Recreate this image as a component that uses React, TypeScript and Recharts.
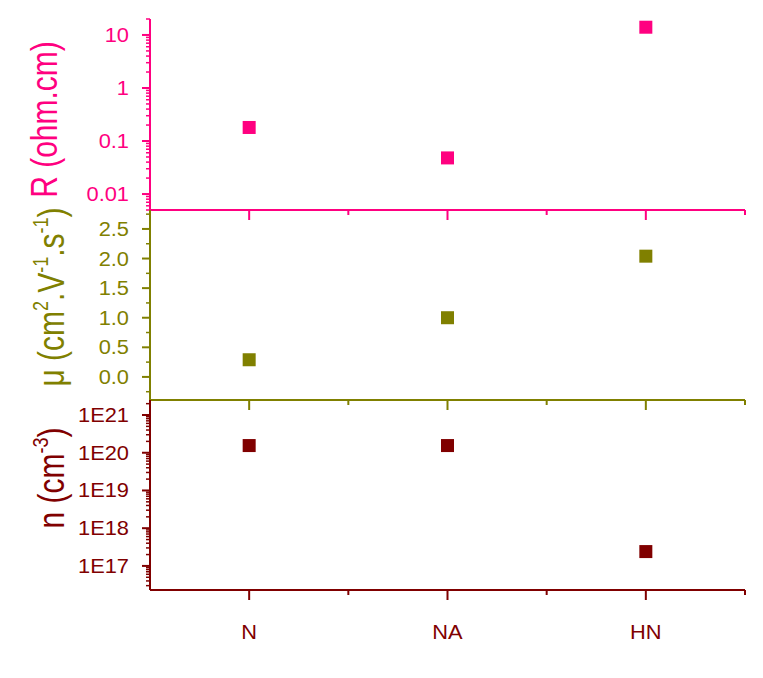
import React from 'react';
import { ScatterChart, Scatter, XAxis, YAxis, Label } from 'recharts';

// categories along the shared x axis
const categories = ['N', 'NA', 'HN'];

// measured values per sample
const resistivity = [0.18, 0.048, 14];
const mobility = [0.29, 1.0, 2.04];
const carrierDensity = [1.55e20, 1.55e20, 2.4e17];

// labelled ticks
const rTicks = [0.01, 0.1, 1, 10];
const muTicks = [0, 0.5, 1, 1.5, 2, 2.5];
const nTicks = [1e17, 1e18, 1e19, 1e20, 1e21];
const xMajor = [1, 2, 3];
const xMinor = [1.5, 2.5, 3.5];

const rDomain = [0.005, 20];
const muDomain = [-0.39, 2.82];
const nDomain = [2.3e16, 2.5e21];
const muMinor = [-0.25, 0.25, 0.75, 1.25, 1.75, 2.25, 2.75];

const PINK = '#FF0080';
const OLIVE = '#808000';
const MAROON = '#800000';

const W = 747;
const H = 662;

const logMinor = (lo: number, hi: number) => {
  const out: number[] = [];
  for (let d = Math.floor(Math.log10(lo)); d <= Math.ceil(Math.log10(hi)); d++) {
    for (let m = 2; m <= 9; m++) {
      const v = m * Math.pow(10, d);
      if (v >= lo && v <= hi) out.push(v);
    }
  }
  return out;
};

const isIn = (list: number[], v: number) =>
  list.some((m) => Math.abs(m - v) <= 1e-9 * Math.max(1, Math.abs(m)));

const toPoints = (vals: number[]) => vals.map((v, i) => ({ x: i + 1, y: v }));

const makeYTick = (color: string, majors: number[], fmt: (v: number) => string) => (props: any) => {
  const { x, y, payload } = props;
  const major = isIn(majors, payload.value);
  return (
    <g>
      <line x1={x} x2={x - (major ? 8 : 4)} y1={y} y2={y} stroke={color} strokeWidth={major ? 2 : 1.5} />
      {major && (
        <text
          transform={`translate(${x - 21},${y}) scale(1.12,1)`}
          dy="0.36em"
          textAnchor="end"
          fill={color}
          fontSize={19.5}
        >
          {fmt(payload.value)}
        </text>
      )}
    </g>
  );
};

const makeXTick = (color: string, showLabels: boolean) => (props: any) => {
  const { x, y, payload } = props;
  const major = isIn(xMajor, payload.value);
  return (
    <g>
      <line x1={x} x2={x} y1={y} y2={y + (major ? 10 : 5)} stroke={color} strokeWidth={2} />
      {major && showLabels && (
        <text transform={`translate(${x},${y + 49}) scale(1.12,1)`} textAnchor="middle" fill={color} fontSize={19.5}>
          {categories[payload.value - 1]}
        </text>
      )}
    </g>
  );
};

type Part = { t: string; sup?: boolean };

const makeTitle = (parts: Part[], color: string, baseX: number, shiftY: number) => (props: any) => {
  const vb = props.viewBox || { x: 0, y: 0, width: 142, height: 190 };
  const cx = vb.x + baseX;
  const cy = vb.y + vb.height / 2 + shiftY;
  let raised = false;
  return (
    <text
      transform={`translate(${cx},${cy}) scale(1.25,1) rotate(-90)`}
      textAnchor="middle"
      fill={color}
      fontSize={30}
    >
      {parts.map((p, i) => {
        let dy = 0;
        if (p.sup && !raised) { dy = -13; raised = true; }
        else if (!p.sup && raised) { dy = 13; raised = false; }
        return (
          <tspan key={i} dy={dy} fontSize={p.sup ? 18 : 30}>
            {p.t}
          </tspan>
        );
      })}
    </text>
  );
};

const Square = (color: string) => (props: any) =>
  <rect x={props.cx - 6.5} y={props.cy - 6.5} width={13} height={13} fill={color} />;

interface PanelProps {
  values: number[];
  color: string;
  top: number;
  bottom: number;
  xHeight: number;
  log: boolean;
  domain: number[];
  ticks: number[];
  majors: number[];
  fmt: (v: number) => string;
  title: Part[];
  titleX: number;
  titleShift: number;
  showX: boolean;
}

const Panel: React.FC<PanelProps> = (p) => (
  <div style={{ position: 'absolute', left: 0, top: 0 }}>
    <ScatterChart width={W} height={H} margin={{ top: p.top, right: 10, bottom: H - p.bottom - p.xHeight, left: 0 }}>
      <XAxis
        type="number"
        dataKey="x"
        domain={[0.5, 3.5]}
        ticks={[...xMajor, ...xMinor].sort()}
        interval={0}
        height={p.xHeight}
        tickSize={0}
        tickMargin={0}
        tickLine={false}
        axisLine={{ stroke: p.color, strokeWidth: 2 }}
        tick={makeXTick(p.color, p.showX)}
        allowDataOverflow
      />
      <YAxis
        type="number"
        dataKey="y"
        scale={p.log ? 'log' : 'linear'}
        domain={p.domain}
        ticks={p.ticks}
        interval={0}
        width={142}
        tickSize={0}
        tickMargin={0}
        tickLine={false}
        axisLine={{ stroke: p.color, strokeWidth: 2 }}
        tick={makeYTick(p.color, p.majors, p.fmt)}
        allowDataOverflow
      >
        <Label content={makeTitle(p.title, p.color, p.titleX, p.titleShift)} />
      </YAxis>
      <Scatter data={toPoints(p.values)} shape={Square(p.color)} isAnimationActive={false} />
    </ScatterChart>
  </div>
);

export default function App() {
  return (
    <div style={{ position: 'relative', width: W, height: H, fontFamily: '"Liberation Sans", Arial, sans-serif', background: '#fff' }}>
      <Panel
        values={resistivity}
        color={PINK}
        top={11}
        bottom={202}
        xHeight={20}
        log
        domain={rDomain}
        ticks={[...rTicks, ...logMinor(rDomain[0], rDomain[1])]}
        majors={rTicks}
        fmt={(v) => String(v)}
        title={[{ t: 'R (ohm.cm)' }]}
        titleX={49}
        titleShift={5}
        showX={false}
      />
      <Panel
        values={mobility}
        color={OLIVE}
        top={202}
        bottom={392}
        xHeight={20}
        log={false}
        domain={muDomain}
        ticks={[...muTicks, ...muMinor]}
        majors={muTicks}
        fmt={(v) => v.toFixed(1)}
        title={[
          { t: 'μ (cm' }, { t: '2', sup: true }, { t: '.V' }, { t: '-1', sup: true },
          { t: '.s' }, { t: '-1', sup: true }, { t: ')' },
        ]}
        titleX={56}
        titleShift={-8}
        showX={false}
      />
      <Panel
        values={carrierDensity}
        color={MAROON}
        top={392}
        bottom={582}
        xHeight={60}
        log
        domain={nDomain}
        ticks={[...nTicks, ...logMinor(nDomain[0], nDomain[1])]}
        majors={nTicks}
        fmt={(v) => '1E' + Math.round(Math.log10(v))}
        title={[{ t: 'n (cm' }, { t: '-3', sup: true }, { t: ')' }]}
        titleX={56}
        titleShift={-17}
        showX
      />
    </div>
  );
}
